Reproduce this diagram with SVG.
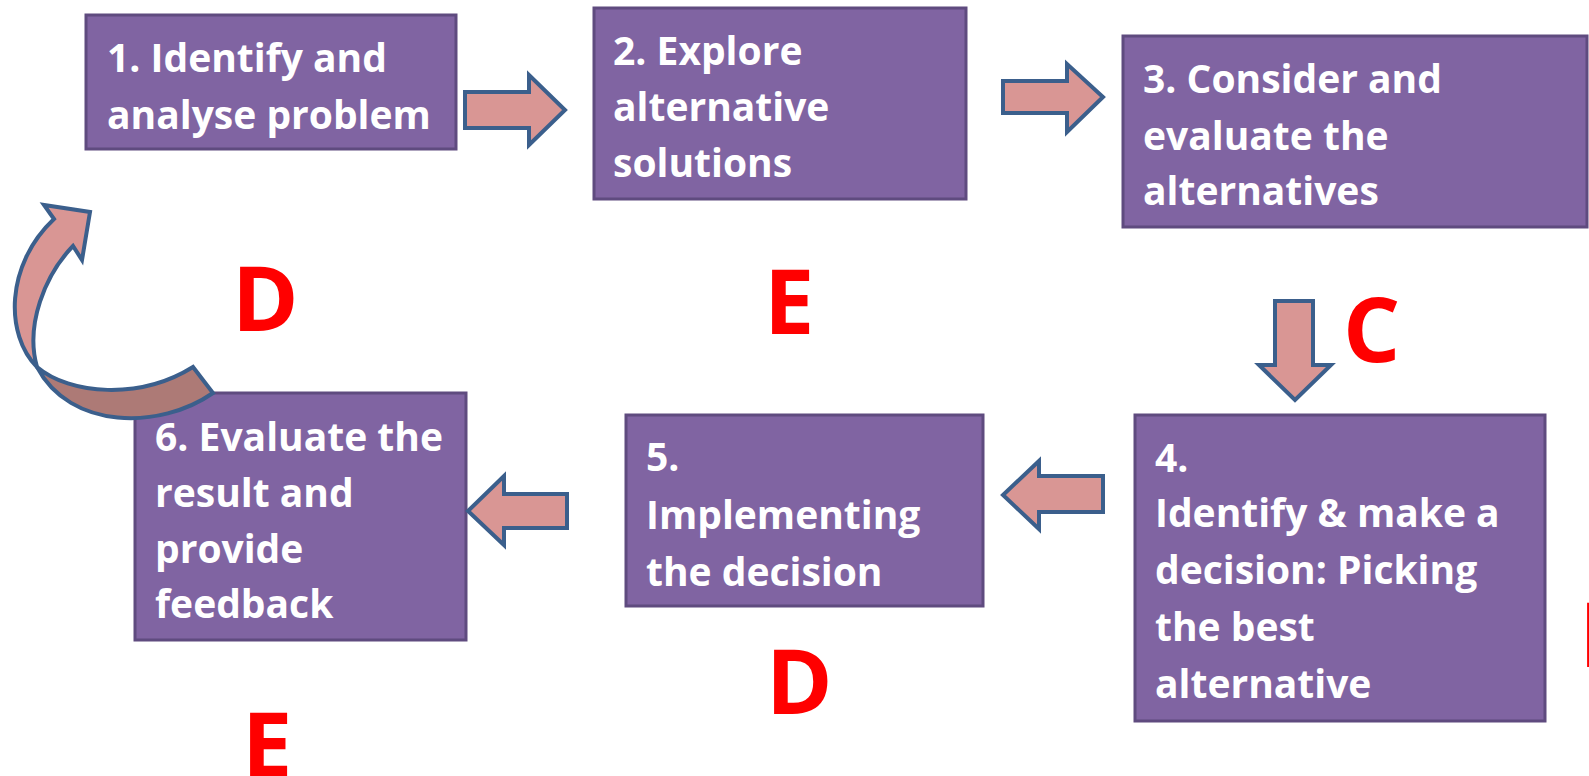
<svg xmlns="http://www.w3.org/2000/svg" width="1589" height="776" viewBox="0 0 1589 776">
<style>
.box{fill:#8064a2;stroke:#5f4b7f;stroke-width:3}
.t{font-family:"Open Sans","Noto Sans",sans-serif;font-weight:bold;font-size:39px;fill:#ffffff}
.arr{fill:#d99694;stroke:#3b5f8c;stroke-width:4;stroke-linejoin:miter}
.big{font-family:"Open Sans","Noto Sans",sans-serif;font-weight:bold;font-size:90px;fill:#ff0000}
</style>
<rect width="1589" height="776" fill="#ffffff"/>
<g id="node1"><rect class="box" x="86" y="15" width="370" height="134"/>
<text class="t" x="107" y="72">1. Identify and</text><text class="t" x="107" y="129">analyse problem</text></g>
<g id="node2"><rect class="box" x="594" y="8" width="372" height="191"/>
<text class="t" x="613" y="65">2. Explore</text><text class="t" x="613" y="121">alternative</text><text class="t" x="613" y="177">solutions</text></g>
<g id="node3"><rect class="box" x="1123" y="36" width="464" height="191"/>
<text class="t" x="1143" y="93">3. Consider and</text><text class="t" x="1143" y="150">evaluate the</text><text class="t" x="1143" y="205">alternatives</text></g>
<g id="node4"><rect class="box" x="1135" y="415" width="410" height="306"/>
<text class="t" x="1155" y="472">4.</text><text class="t" x="1155" y="527">Identify &amp; make a</text><text class="t" x="1155" y="584">decision: Picking</text><text class="t" x="1155" y="641">the best</text><text class="t" x="1155" y="698">alternative</text></g>
<g id="node5"><rect class="box" x="626" y="415" width="357" height="191"/>
<text class="t" x="646" y="471">5.</text><text class="t" x="646" y="529">Implementing</text><text class="t" x="646" y="586">the decision</text></g>
<g id="node6"><rect class="box" x="135" y="393" width="331" height="247"/>
<text class="t" x="155" y="451">6. Evaluate the</text><text class="t" x="155" y="507">result and</text><text class="t" x="155" y="563">provide</text><text class="t" x="155" y="618">feedback</text></g>
<g id="connectors">
<path class="arr" d="M465,92 L529,92 L529,75 L565,110 L529,145 L529,128 L465,128 Z"/>
<path class="arr" d="M1003,81 L1067,81 L1067,64 L1103,97 L1067,132 L1067,113 L1003,113 Z"/>
<path class="arr" d="M1275,301 L1313,301 L1313,365 L1331,365 L1295,400 L1259,365 L1275,365 Z"/>
<path class="arr" d="M1103,476 L1039,476 L1039,461 L1003,495 L1039,529 L1039,512 L1103,512 Z"/>
<path class="arr" d="M567,494 L504,494 L504,476 L468,511 L504,545 L504,528 L567,528 Z"/>
<path class="arr" d="M54,219 L44,205 L90,212 L82,260 L73,246 C45,275 25,325 37,367 C5,335 5,265 54,219 Z"/>
<path class="arr" style="fill:#ad7a76" d="M37,367 C70,395 140,400 193,367 L213,393 C160,430 70,430 37,367 Z"/>
</g>
<g id="letters">
<text class="big" x="232" y="331">D</text>
<text class="big" x="764" y="334">E</text>
<text class="big" x="1343" y="362">C</text>
<text class="big" x="766" y="714">D</text>
<text class="big" x="242" y="777">E</text>
<text class="big" x="1579" y="667">I</text>
</g>
</svg>
